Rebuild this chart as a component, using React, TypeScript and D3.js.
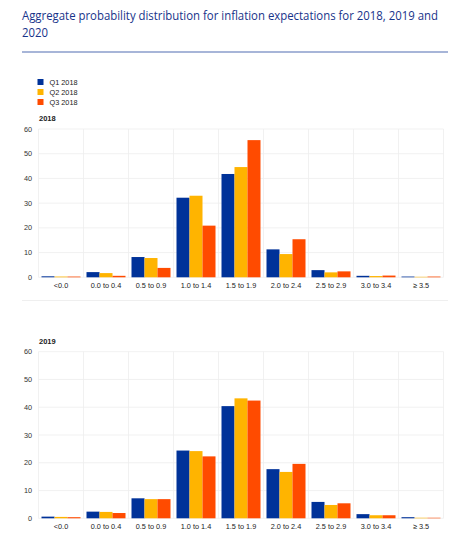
import { useEffect, useRef } from "react";
import * as d3 from "d3";

// categories of expected inflation (x axis)
const categories = [
  "<0.0",
  "0.0 to 0.4",
  "0.5 to 0.9",
  "1.0 to 1.4",
  "1.5 to 1.9",
  "2.0 to 2.4",
  "2.5 to 2.9",
  "3.0 to 3.4",
  "≥ 3.5",
];

const seriesNames = ["Q1 2018", "Q2 2018", "Q3 2018"];
const seriesColors = ["#003299", "#ffb400", "#ff4b00"];

// 2018 horizon
const q1_2018 = [0.4, 2.1, 8.2, 32.2, 41.8, 11.3, 2.9, 0.6, 0.3];
const q2_2018 = [0.3, 1.7, 7.8, 33.0, 44.6, 9.4, 2.0, 0.5, 0.2];
const q3_2018 = [0.3, 0.6, 3.8, 20.9, 55.5, 15.4, 2.4, 0.7, 0.3];

// 2019 horizon
const q1_2019 = [0.6, 2.4, 7.2, 24.4, 40.4, 17.7, 5.9, 1.5, 0.4];
const q2_2019 = [0.5, 2.3, 6.9, 24.2, 43.2, 16.7, 4.8, 1.1, 0.2];
const q3_2019 = [0.4, 1.9, 6.9, 22.3, 42.4, 19.6, 5.4, 1.1, 0.2];

const yTicks = [0, 10, 20, 30, 40, 50, 60];

const panels = [
  { title: "2018", series: [q1_2018, q2_2018, q3_2018], top: 129, bottom: 277.3 },
  { title: "2019", series: [q1_2019, q2_2019, q3_2019], top: 351.7, bottom: 518.3 },
];

const labelFont = "'Liberation Sans', Arial, sans-serif";

function App() {
  const ref = useRef<SVGSVGElement>(null);

  useEffect(() => {
    if (!ref.current) return;
    const svg = d3.select(ref.current);
    svg.selectAll("*").remove();

    // titre
    svg
      .append("text")
      .attr("x", 22)
      .attr("y", 20)
      .attr("textLength", 416)
      .attr("lengthAdjust", "spacingAndGlyphs")
      .style("font-family", "'Open Sans', sans-serif")
      .style("font-size", "11.8px")
      .style("fill", "#17338a")
      .text("Aggregate probability distribution for inflation expectations for 2018, 2019 and");
    svg
      .append("text")
      .attr("x", 22)
      .attr("y", 37)
      .attr("textLength", 26)
      .attr("lengthAdjust", "spacingAndGlyphs")
      .style("font-family", "'Open Sans', sans-serif")
      .style("font-size", "11.8px")
      .style("fill", "#17338a")
      .text("2020");
    svg
      .append("line")
      .attr("x1", 22)
      .attr("x2", 448)
      .attr("y1", 52)
      .attr("y2", 52)
      .style("stroke", "#8a9ccb")
      .style("stroke-width", 1.5);

    // légende
    const legend = svg
      .selectAll(".legend")
      .data(seriesNames)
      .enter()
      .append("g")
      .attr("class", "legend")
      .attr("transform", (_d, i) => `translate(37.5, ${82 + i * 10})`);
    legend
      .append("rect")
      .attr("x", 0)
      .attr("y", -3)
      .attr("width", 6)
      .attr("height", 6)
      .style("fill", (_d, i) => seriesColors[i]);
    legend
      .append("text")
      .attr("x", 12)
      .attr("dy", "0.35em")
      .style("font-family", labelFont)
      .style("font-size", "7.3px")
      .style("fill", "#222")
      .text((d) => d);

    const x0 = d3.scaleBand().domain(categories).range([38.5, 443.5]).paddingInner(0);
    const x1 = d3
      .scaleBand()
      .domain(seriesNames)
      .range([3, x0.bandwidth() - 3])
      .padding(0);

    panels.forEach((p) => {
      const y = d3.scaleLinear().domain([0, 60]).range([p.bottom, p.top]);
      const g = svg.append("g");

      // sous-titre
      g.append("text")
        .attr("x", 39)
        .attr("y", p.top - 8)
        .style("font-family", labelFont)
        .style("font-size", "7.5px")
        .style("font-weight", "bold")
        .style("fill", "#222")
        .text(p.title);

      // grille horizontale
      g.selectAll(".hgrid")
        .data(yTicks)
        .enter()
        .append("line")
        .attr("x1", 38.5)
        .attr("x2", 443.5)
        .attr("y1", (d) => y(d))
        .attr("y2", (d) => y(d))
        .style("stroke", "#ededed")
        .style("stroke-width", 0.8);

      // grille verticale
      const bounds = categories.map((c) => x0(c)!).concat([443.5]);
      g.selectAll(".vgrid")
        .data(bounds)
        .enter()
        .append("line")
        .attr("x1", (d) => d)
        .attr("x2", (d) => d)
        .attr("y1", p.top)
        .attr("y2", p.bottom)
        .style("stroke", "#ededed")
        .style("stroke-width", 0.8);

      // étiquettes y
      g.selectAll(".ylab")
        .data(yTicks)
        .enter()
        .append("text")
        .attr("x", 32)
        .attr("y", (d) => y(d))
        .attr("dy", "0.35em")
        .attr("text-anchor", "end")
        .style("font-family", labelFont)
        .style("font-size", "7.3px")
        .style("fill", "#333")
        .text((d) => d);

      // barres
      p.series.forEach((vals, si) => {
        g.selectAll(`.bar-${si}`)
          .data(vals)
          .enter()
          .append("rect")
          .attr("x", (_d, i) => x0(categories[i])! + x1(seriesNames[si])!)
          .attr("width", x1.bandwidth())
          .attr("y", (d) => y(d))
          .attr("height", (d) => y(0) - y(d))
          .style("fill", seriesColors[si]);
      });

      // étiquettes x
      g.selectAll(".xlab")
        .data(categories)
        .enter()
        .append("text")
        .attr("x", (d) => x0(d)! + x0.bandwidth() / 2)
        .attr("y", p.bottom + 11)
        .attr("text-anchor", "middle")
        .style("font-family", labelFont)
        .style("font-size", "7.3px")
        .style("fill", "#222")
        .text((d) => d);
    });

    // séparateur entre les panneaux
    svg
      .append("line")
      .attr("x1", 22)
      .attr("x2", 448)
      .attr("y1", 300.5)
      .attr("y2", 300.5)
      .style("stroke", "#efefef")
      .style("stroke-width", 1);
  }, []);

  return (
    <div style={{ position: "absolute", left: 0, top: 0, background: "white" }}>
      <svg ref={ref} width={455} height={540} viewBox="0 0 455 540" />
    </div>
  );
}

export default App;
